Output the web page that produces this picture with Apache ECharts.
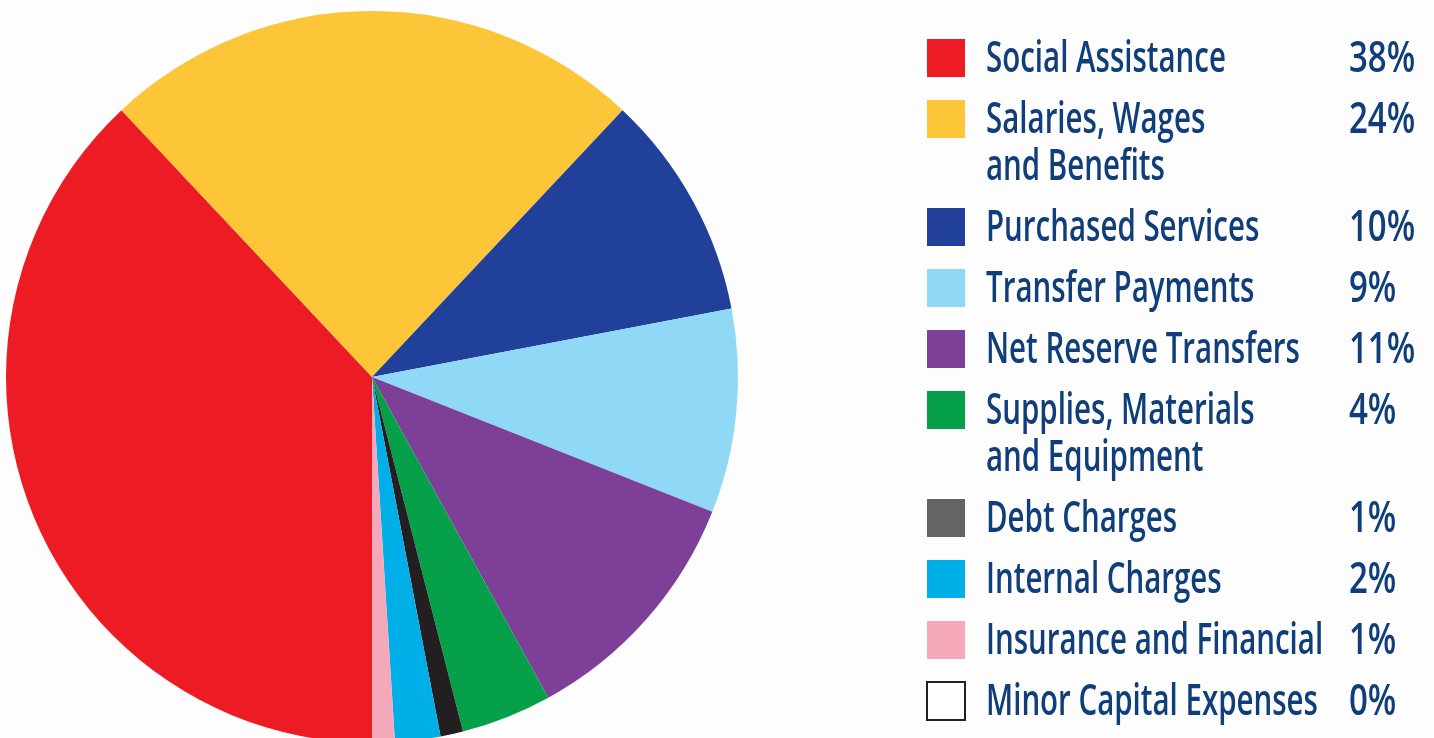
<!DOCTYPE html>
<html>
<head>
<meta charset="utf-8">
<script src="https://cdn.jsdelivr.net/npm/echarts@6/dist/echarts.min.js"></script>
<style>
  html, body { margin: 0; padding: 0; background: #fdfdfd; }
  #chart { width: 1434px; height: 738px; }
</style>
</head>
<body>
<div id="chart"></div>
<script>
// Expense categories, in drawing order (clockwise from the bottom of the pie)
const categories = [
  'Social Assistance',
  'Salaries, Wages\nand Benefits',
  'Purchased Services',
  'Transfer Payments',
  'Net Reserve Transfers',
  'Supplies, Materials\nand Equipment',
  'Debt Charges',
  'Internal Charges',
  'Insurance and Financial',
  'Minor Capital Expenses'
];
// Share of total expenses, percent
const shares = [38, 24, 10, 9, 11, 4, 1, 2, 1, 0];
// Slice fill colours
const sliceColors = ['#ed1c24', '#fdc638', '#21409a', '#8fd8f6', '#7e3f98', '#06a04b', '#231f20', '#00aee8', '#f5a8ba', '#ffffff'];
// Key swatch colours
const swatchColors = ['#ed1c24', '#fdc638', '#21409a', '#8fd8f6', '#7e3f98', '#06a04b', '#646466', '#00aee8', '#f5a8ba', '#ffffff'];

const textColor = '#0f3e7b';
const fontFamily = '"Open Sans", "Noto Sans", sans-serif';
const fontSize = 44;
const fontWeight = 600;
const nameSqueeze = 0.67;
const shareSqueeze = 0.75;
const lineGap = 47;

// Key rows: swatch, category name and share
const keyItems = [];
let rowY = 58;
categories.forEach((name, i) => {
  const lines = name.split('\n').length;
  keyItems.push({
    type: 'rect',
    shape: { x: 927, y: rowY - 19, width: 38, height: 38 },
    style: {
      fill: swatchColors[i],
      stroke: swatchColors[i] === '#ffffff' ? '#231f20' : null,
      lineWidth: 2
    }
  });
  keyItems.push({
    type: 'text',
    x: 986, y: rowY - lineGap / 2 + 1,
    scaleX: nameSqueeze,
    style: {
      text: name, fill: textColor, fontSize: fontSize, fontFamily: fontFamily,
      fontWeight: fontWeight, lineHeight: lineGap, align: 'left', verticalAlign: 'top'
    }
  });
  keyItems.push({
    type: 'text',
    x: 1349, y: rowY - lineGap / 2 + 1,
    scaleX: shareSqueeze,
    style: {
      text: shares[i] + '%', fill: textColor, fontSize: fontSize, fontFamily: fontFamily,
      fontWeight: fontWeight, lineHeight: lineGap, align: 'left', verticalAlign: 'top'
    }
  });
  rowY += 61 + (lines - 1) * lineGap;
});

const chart = echarts.init(document.getElementById('chart'), null, { renderer: 'canvas' });
chart.setOption({
  backgroundColor: '#fdfdfd',
  animation: false,
  series: [{
    type: 'pie',
    center: [372, 377],
    radius: 366,
    startAngle: 270,
    clockwise: true,
    avoidLabelOverlap: false,
    label: { show: false },
    labelLine: { show: false },
    emphasis: { disabled: true },
    itemStyle: { borderWidth: 0 },
    data: categories.map((name, i) => ({
      name: name,
      value: shares[i],
      itemStyle: { color: sliceColors[i] }
    }))
  }],
  graphic: keyItems
});
</script>
</body>
</html>
